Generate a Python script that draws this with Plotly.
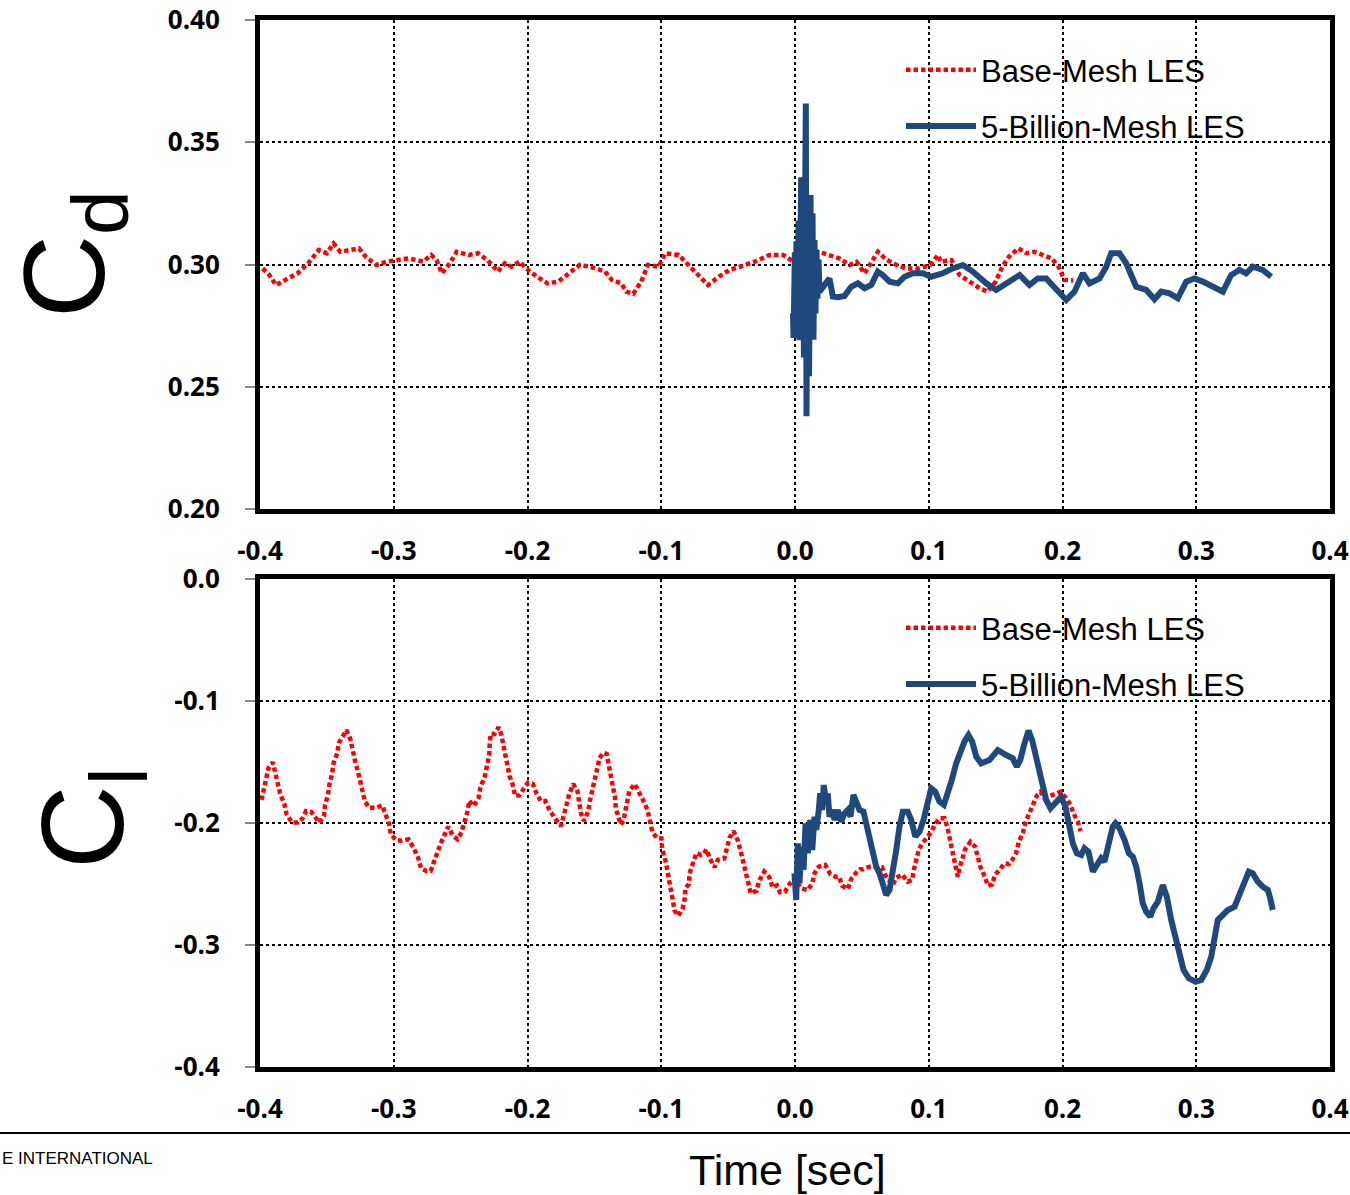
import plotly.graph_objects as go

# ---------------- data ----------------
# Top panel: drag coefficient Cd
cd_base_t = [-0.398, -0.393, -0.388, -0.380, -0.372, -0.364, -0.356, -0.350, -0.345, -0.340,
             -0.332, -0.326, -0.321, -0.313, -0.305, -0.297, -0.289, -0.278, -0.272, -0.268,
             -0.264, -0.258, -0.253, -0.244, -0.237, -0.230, -0.222, -0.217, -0.212, -0.206,
             -0.201, -0.193, -0.185, -0.177, -0.169, -0.161, -0.153, -0.142, -0.137, -0.130,
             -0.126, -0.121, -0.115, -0.110, -0.102, -0.097, -0.087, -0.081, -0.073, -0.065,
             -0.057, -0.049, -0.041, -0.030, -0.019, -0.009, -0.001, 0.008,
             0.018, 0.026, 0.033, 0.041, 0.046, 0.052, 0.057, 0.062, 0.068, 0.076,
             0.083, 0.093, 0.101, 0.107, 0.109, 0.117, 0.123, 0.130, 0.138, 0.144,
             0.150, 0.155, 0.160, 0.167, 0.173, 0.179, 0.185, 0.192, 0.197, 0.2015, 0.208]
cd_base = [0.2984, 0.2957, 0.2916, 0.2939, 0.2964, 0.3005, 0.3059, 0.3046, 0.3086, 0.3052,
           0.3059, 0.3066, 0.3032, 0.2998, 0.3012, 0.3018, 0.3025, 0.3012, 0.3039, 0.3018,
           0.2964, 0.3005, 0.3052, 0.3039, 0.3046, 0.3018, 0.2971, 0.3005, 0.2991, 0.3012,
           0.2984, 0.2950, 0.2923, 0.2930, 0.2964, 0.2998, 0.2991, 0.2971, 0.2937, 0.2923,
           0.2889, 0.2880, 0.2930, 0.2998, 0.2991, 0.3046, 0.3039, 0.3005, 0.2964, 0.2916,
           0.2950, 0.2978, 0.2991, 0.3012, 0.3039, 0.3039, 0.3012, 0.3045,
           0.3052, 0.3035, 0.3025, 0.2998, 0.3011, 0.2964, 0.3005, 0.3052, 0.3021, 0.2998,
           0.2984, 0.2984, 0.2998, 0.3039, 0.3011, 0.3018, 0.2957, 0.2930, 0.2903, 0.2889,
           0.2930, 0.2991, 0.3032, 0.3066, 0.3046, 0.3052, 0.3039, 0.3025, 0.2991, 0.2937, 0.2935]

cd_fine_t = [-0.0015, -0.0011, -0.0001, 0.0004, 0.0011, 0.0020, 0.0026, 0.0034, 0.0046, 0.0052,
             0.0060, 0.0067, 0.0081, 0.0086, 0.0093, 0.0105, 0.0116, 0.0123, 0.0131, 0.0138,
             0.0146, 0.0153, 0.0161, 0.0168, 0.0176, 0.0183,
             0.0221, 0.0258, 0.0283, 0.0320, 0.0370, 0.0420, 0.0470, 0.0520, 0.0570, 0.0619,
             0.0656, 0.0707, 0.0769, 0.0819, 0.0881, 0.0956, 0.1018, 0.1105, 0.1180, 0.1255,
             0.1329, 0.1430, 0.1504, 0.1604, 0.1679, 0.1753, 0.1815, 0.1878, 0.1953, 0.2028,
             0.2090, 0.2152, 0.2202, 0.2277, 0.2327, 0.2364, 0.2426, 0.2476, 0.2551, 0.2626,
             0.2688, 0.2738, 0.2800, 0.2862, 0.2925, 0.2987, 0.3049, 0.3124, 0.3199, 0.3261,
             0.3323, 0.3373, 0.3423, 0.3497, 0.3560]
cd_fine = [0.280, 0.270, 0.305, 0.270, 0.3095, 0.270, 0.318, 0.269, 0.3357, 0.269,
           0.320, 0.262, 0.3658, 0.2379, 0.320, 0.2543, 0.3284, 0.2692, 0.321, 0.2692,
           0.310, 0.280, 0.306, 0.286, 0.302, 0.2889,
           0.2916, 0.2943, 0.2869, 0.2866, 0.2871, 0.2909, 0.2923, 0.2903, 0.2916, 0.2971,
           0.2957, 0.2930, 0.2923, 0.2950, 0.2964, 0.2964, 0.2950, 0.2964, 0.2984, 0.2998,
           0.2971, 0.2923, 0.2896, 0.2930, 0.2957, 0.2916, 0.2943, 0.2943, 0.2896, 0.2855,
           0.2889, 0.2964, 0.2923, 0.2943, 0.2991, 0.3046, 0.3046, 0.3005, 0.2909, 0.2896,
           0.2858, 0.2889, 0.2882, 0.2862, 0.2930, 0.2943, 0.2930, 0.2909, 0.2889, 0.2957,
           0.2978, 0.2964, 0.2991, 0.2978, 0.2950]

# Bottom panel: lift coefficient Cl
cl_base_t = [-0.3989, -0.3971, -0.3952, -0.3936, -0.3904, -0.3885, -0.3864, -0.3850, -0.3818, -0.3802,
             -0.3762, -0.3717, -0.3682, -0.3656, -0.3615, -0.3589, -0.3557, -0.3522, -0.3514, -0.3493,
             -0.3482, -0.3463, -0.3450, -0.3423, -0.3410, -0.3375, -0.3354, -0.3324, -0.3311, -0.3290,
             -0.3268, -0.3252, -0.3236, -0.3215, -0.3183, -0.3129, -0.3087, -0.3063, -0.3036, -0.3023,
             -0.2983, -0.2943, -0.2889, -0.2849, -0.2817, -0.2796, -0.2756, -0.2724, -0.2702, -0.2681,
             -0.2649, -0.2617, -0.2593, -0.2561, -0.2523, -0.2494, -0.2470, -0.2449, -0.2435, -0.2403,
             -0.2366, -0.2352, -0.2320, -0.2304, -0.2286, -0.2283, -0.2275, -0.2248, -0.2216, -0.2198,
             -0.2182, -0.2166, -0.2150, -0.2134, -0.2109, -0.2093, -0.2061, -0.2035, -0.1997, -0.1960,
             -0.1933, -0.1901, -0.1866, -0.1834, -0.1802, -0.1778, -0.1749, -0.1730, -0.1709, -0.1688,
             -0.1658, -0.1626, -0.1613, -0.1600, -0.1578, -0.1546, -0.1533, -0.1514, -0.1495, -0.1479,
             -0.1461, -0.1434, -0.1407, -0.1394, -0.1375, -0.1359, -0.1346, -0.1340, -0.1319, -0.1303,
             -0.1282, -0.1268, -0.1250, -0.1239, -0.1199, -0.1162, -0.1132, -0.1103, -0.1089, -0.1068,
             -0.1033, -0.0999, -0.0993, -0.0975, -0.0959, -0.0943, -0.0935, -0.0913, -0.0900, -0.0873,
             -0.0841, -0.0825, -0.0820, -0.0793, -0.0788, -0.0761, -0.0737, -0.0702, -0.0684, -0.0662,
             -0.0636, -0.0601, -0.0577, -0.0529, -0.0505, -0.0489, -0.0459, -0.0427, -0.0406, -0.0387,
             -0.0371, -0.0350, -0.0331, -0.0288, -0.0267, -0.0230, -0.0192, -0.0166, -0.0136, -0.0112,
             -0.0075, -0.0037, -0.0005,
             0.0046, 0.0096, 0.0129, 0.0146, 0.0178, 0.0226, 0.0263, 0.0303, 0.0330, 0.0353,
             0.0395, 0.0420, 0.0458, 0.0487, 0.0510, 0.0557, 0.0607, 0.0652, 0.0677, 0.0731,
             0.0757, 0.0801, 0.0843, 0.0876, 0.0888, 0.0911, 0.0926, 0.0951, 0.0988, 0.1018,
             0.1050, 0.1080, 0.1118, 0.1138, 0.1155, 0.1172, 0.1193, 0.1205, 0.1217, 0.1230,
             0.1250, 0.1273, 0.1312, 0.1347, 0.1367, 0.1387, 0.1419, 0.1442, 0.1474, 0.1497,
             0.1534, 0.1566, 0.1599, 0.1624, 0.1654, 0.1673, 0.1703, 0.1723, 0.1751, 0.1778,
             0.1811, 0.1836, 0.1865, 0.1908, 0.1948, 0.1985, 0.2022, 0.2060, 0.2082, 0.2114,
             0.2135]
cl_base = [-0.1811, -0.1724, -0.1634, -0.1547, -0.1503, -0.1585, -0.1670, -0.1757, -0.1844, -0.1926,
           -0.1995, -0.1995, -0.1962, -0.1902, -0.1910, -0.1943, -0.1997, -0.1943, -0.1852, -0.1776,
           -0.1689, -0.1607, -0.1511, -0.1429, -0.1342, -0.1279, -0.1238, -0.1314, -0.1402, -0.1489,
           -0.1577, -0.1661, -0.1738, -0.1825, -0.1874, -0.1874, -0.1855, -0.1915, -0.2003, -0.2090,
           -0.2139, -0.2145, -0.2134, -0.2210, -0.2287, -0.2372, -0.2393, -0.2393, -0.2325, -0.2243,
           -0.2167, -0.2090, -0.2030, -0.2098, -0.2134, -0.2077, -0.1992, -0.1907, -0.1817, -0.1861,
           -0.1795, -0.1708, -0.1620, -0.1533, -0.1443, -0.1358, -0.1270, -0.1270, -0.1216, -0.1265,
           -0.1352, -0.1440, -0.1527, -0.1615, -0.1691, -0.1779, -0.1773, -0.1730, -0.1670, -0.1680,
           -0.1757, -0.1820, -0.1820, -0.1899, -0.1954, -0.1984, -0.2025, -0.1934, -0.1850, -0.1762,
           -0.1680, -0.1740, -0.1834, -0.1921, -0.1984, -0.1904, -0.1817, -0.1730, -0.1642, -0.1555,
           -0.1467, -0.1424, -0.1435, -0.1519, -0.1609, -0.1697, -0.1787, -0.1877, -0.1956, -0.2014,
           -0.1981, -0.1915, -0.1828, -0.1740, -0.1680, -0.1749, -0.1822, -0.1893, -0.1981, -0.2068,
           -0.2123, -0.2126, -0.2219, -0.2276, -0.2361, -0.2451, -0.2541, -0.2629, -0.2719, -0.2760,
           -0.2705, -0.2623, -0.2535, -0.2500, -0.2412, -0.2325, -0.2246, -0.2262, -0.2254, -0.2216,
           -0.2292, -0.2363, -0.2301, -0.2292, -0.2205, -0.2120, -0.2068, -0.2145, -0.2232, -0.2320,
           -0.2407, -0.2494, -0.2576, -0.2557, -0.2470, -0.2399, -0.2445, -0.2530, -0.2511, -0.2568,
           -0.2562, -0.2494, -0.2454,
           -0.2536, -0.2549, -0.2494, -0.2413, -0.2358, -0.2344, -0.2418, -0.2440, -0.2440, -0.2514,
           -0.2541, -0.2459, -0.2407, -0.2380, -0.2380, -0.2358, -0.2358, -0.2364, -0.2432, -0.2508,
           -0.2448, -0.2423, -0.2481, -0.2467, -0.2385, -0.2298, -0.2216, -0.2167, -0.2118, -0.2077,
           -0.2003, -0.1962, -0.1962, -0.2030, -0.2118, -0.2205, -0.2292, -0.2358, -0.2440, -0.2372,
           -0.2298, -0.2213, -0.2153, -0.2194, -0.2281, -0.2363, -0.2440, -0.2514, -0.2503, -0.2421,
           -0.2380, -0.2331, -0.2336, -0.2303, -0.2243, -0.2156, -0.2082, -0.1997, -0.1921, -0.1847,
           -0.1770, -0.1743, -0.1798, -0.1779, -0.1762, -0.1743, -0.1790, -0.1850, -0.1921, -0.1989,
           -0.2066]

cl_fine_t = [-0.0004, 0.0009, 0.0021, 0.0034, 0.0046, 0.0064, 0.0079, 0.0096, 0.0114, 0.0129,
             0.0146, 0.0159, 0.0178, 0.0188, 0.0203, 0.0215, 0.0233, 0.0245, 0.0258, 0.0278,
             0.0295, 0.0320, 0.0345, 0.0370, 0.0395, 0.0415, 0.0437, 0.0462, 0.0482, 0.0512,
             0.0537, 0.0562, 0.0587, 0.0607, 0.0632, 0.0656, 0.0682, 0.0707, 0.0731, 0.0757,
             0.0781, 0.0806, 0.0843, 0.0869, 0.0899, 0.0931, 0.0961, 0.0988, 0.1018, 0.1048,
             0.1080, 0.1113, 0.1143, 0.1172, 0.1205, 0.1237, 0.1267, 0.1297, 0.1325, 0.1355,
             0.1392, 0.1454, 0.1516, 0.1579, 0.1628, 0.1658, 0.1684, 0.1716, 0.1746, 0.1773,
             0.1798, 0.1828, 0.1853, 0.1878, 0.1910, 0.1953, 0.1990, 0.2022, 0.2047, 0.2077,
             0.2107, 0.2140, 0.2164, 0.2194, 0.2227, 0.2264, 0.2289, 0.2314, 0.2346, 0.2376,
             0.2396, 0.2426, 0.2464, 0.2496, 0.2526, 0.2551, 0.2576, 0.2600, 0.2626, 0.2656,
             0.2680, 0.2713, 0.2750, 0.2780, 0.2813, 0.2845, 0.2875, 0.2905, 0.2944, 0.2995,
             0.3037, 0.3079, 0.3112, 0.3136, 0.3161, 0.3199, 0.3236, 0.3286, 0.3323, 0.3361,
             0.3393, 0.3423, 0.3460, 0.3497, 0.3535, 0.3553, 0.3572]
cl_fine = [-0.2413, -0.2631, -0.2167, -0.2494, -0.2194, -0.2385, -0.2003, -0.2248, -0.1975, -0.2221,
           -0.1948, -0.2057, -0.1893, -0.1757, -0.1893, -0.1689, -0.1839, -0.1757, -0.1948, -0.1893,
           -0.1975, -0.1893, -0.1989, -0.1921, -0.1893, -0.1948, -0.1770, -0.1839, -0.1893, -0.1907,
           -0.2030, -0.2126, -0.2221, -0.2358, -0.2413, -0.2494, -0.2590, -0.2549, -0.2413, -0.2221,
           -0.2030, -0.1907, -0.1907, -0.1975, -0.2112, -0.2071, -0.1975, -0.1866, -0.1716, -0.1743,
           -0.1825, -0.1852, -0.1757, -0.1648, -0.1511, -0.1415, -0.1333, -0.1279, -0.1333, -0.1456,
           -0.1511, -0.1484, -0.1402, -0.1443, -0.1470, -0.1538, -0.1484, -0.1347, -0.1243, -0.1320,
           -0.1429, -0.1579, -0.1675, -0.1811, -0.1880, -0.1825, -0.1784, -0.1866, -0.2003, -0.2167,
           -0.2248, -0.2262, -0.2207, -0.2235, -0.2399, -0.2344, -0.2289, -0.2317, -0.2167, -0.2030,
           -0.2003, -0.2044, -0.2139, -0.2248, -0.2276, -0.2358, -0.2494, -0.2658, -0.2727, -0.2768,
           -0.2699, -0.2645, -0.2508, -0.2604, -0.2795, -0.2932, -0.3068, -0.3205, -0.3273, -0.3301,
           -0.3287, -0.3205, -0.3096, -0.2932, -0.2795, -0.2754, -0.2713, -0.2686, -0.2577, -0.2467,
           -0.2399, -0.2413, -0.2481, -0.2522, -0.2549, -0.2617, -0.2713]

series_names = ["Base-Mesh LES", "5-Billion-Mesh LES"]
x_tick_vals = [-0.4, -0.3, -0.2, -0.1, 0.0, 0.1, 0.2, 0.3, 0.4]
x_tick_text = ["-0.4", "-0.3", "-0.2", "-0.1", "0.0", "0.1", "0.2", "0.3", "0.4"]
cd_tick_vals = [0.20, 0.25, 0.30, 0.35, 0.40]
cd_tick_text = ["0.20", "0.25", "0.30", "0.35", "0.40"]
cl_tick_vals = [0.0, -0.1, -0.2, -0.3, -0.4]
cl_tick_text = ["0.0", "-0.1", "-0.2", "-0.3", "-0.4"]

# ---------------- styling ----------------
W, H = 1350, 1195
RED = "#FF0000"
BLUE = "#1F497D"
TICKFONT = dict(family="Open Sans, Arial", size=26, color="black", weight="bold")
LEGFONT = dict(family="Liberation Sans, Arial", size=31, color="black")

def px_x(p):
    return p / W

def px_y(p):
    return (H - p) / H

fig = go.Figure()

red_line = dict(color=RED, width=4.5, dash="4.5px,3px")
blue_line = dict(color=BLUE, width=6)

fig.add_trace(go.Scatter(x=cd_base_t, y=cd_base, mode="lines", line=red_line,
                         name=series_names[0], legend="legend", legendgroup="a",
                         xaxis="x", yaxis="y"))
fig.add_trace(go.Scatter(x=cd_fine_t, y=cd_fine, mode="lines", line=blue_line,
                         name=series_names[1], legend="legend", legendgroup="b",
                         xaxis="x", yaxis="y"))
fig.add_trace(go.Scatter(x=cl_base_t, y=cl_base, mode="lines", line=red_line,
                         name=series_names[0], legend="legend2", legendgroup="c",
                         xaxis="x2", yaxis="y2"))
fig.add_trace(go.Scatter(x=cl_fine_t, y=cl_fine, mode="lines", line=blue_line,
                         name=series_names[1], legend="legend2", legendgroup="d",
                         xaxis="x2", yaxis="y2"))

xdom = [px_x(260), px_x(1330)]

def xaxis_cfg(anchor):
    return dict(domain=xdom, anchor=anchor, range=[-0.4, 0.4], automargin=False,
                tickmode="array", tickvals=x_tick_vals, ticktext=x_tick_text,
                showgrid=True, gridcolor="black", griddash="dot", gridwidth=1.5,
                showline=True, mirror=True, linecolor="black", linewidth=5,
                zeroline=False, ticks="", tickfont=TICKFONT, ticklabelstandoff=15)

def yaxis_cfg(anchor, dom, rng, vals, text):
    return dict(domain=dom, anchor=anchor, range=rng, automargin=False,
                tickmode="array", tickvals=vals, ticktext=text,
                showgrid=True, gridcolor="black", griddash="dot", gridwidth=1.5,
                showline=True, mirror=True, linecolor="black", linewidth=5,
                zeroline=False, ticks="outside", ticklen=10, tickwidth=2,
                tickcolor="#888888", tickfont=TICKFONT, ticklabelstandoff=20)

fig.update_layout(
    width=W, height=H, autosize=False,
    margin=dict(l=0, r=0, t=0, b=0, pad=0, autoexpand=False),
    paper_bgcolor="white", plot_bgcolor="white",
    xaxis=xaxis_cfg("y"),
    yaxis=yaxis_cfg("x", [px_y(509), px_y(20)], [0.20, 0.40], cd_tick_vals, cd_tick_text),
    xaxis2=xaxis_cfg("y2"),
    yaxis2=yaxis_cfg("x2", [px_y(1067), px_y(579)], [-0.4, 0.0], cl_tick_vals, cl_tick_text),
    legend=dict(x=px_x(901), y=px_y(43), xanchor="left", yanchor="top",
                font=LEGFONT, bgcolor="rgba(0,0,0,0)", itemwidth=70,
                tracegroupgap=13),
    legend2=dict(x=px_x(901), y=px_y(601), xanchor="left", yanchor="top",
                 font=LEGFONT, bgcolor="rgba(0,0,0,0)", itemwidth=70,
                 tracegroupgap=13),
    showlegend=True,
)

fig.add_annotation(text="C<sub>d</sub>", textangle=-90, showarrow=False,
                   xref="paper", yref="paper", x=px_x(72), y=px_y(254),
                   xanchor="center", yanchor="middle",
                   font=dict(family="Liberation Sans, Arial", size=115, color="black"))
fig.add_annotation(text="C<sub>l</sub>", textangle=-90, showarrow=False,
                   xref="paper", yref="paper", x=px_x(91), y=px_y(818),
                   xanchor="center", yanchor="middle",
                   font=dict(family="Liberation Sans, Arial", size=116, color="black"))
fig.add_annotation(text="Time [sec]", showarrow=False,
                   xref="paper", yref="paper", x=px_x(787), y=px_y(1170),
                   xanchor="center", yanchor="middle",
                   font=dict(family="Liberation Sans Narrow, Arial Narrow, Liberation Sans", size=43, color="black"))
fig.add_annotation(text="E INTERNATIONAL", showarrow=False,
                   xref="paper", yref="paper", x=0, y=px_y(1158),
                   xanchor="left", yanchor="middle",
                   font=dict(family="Liberation Sans Narrow, Arial Narrow, Liberation Sans", size=17, color="black"))
fig.add_shape(type="line", xref="paper", yref="paper", x0=0, x1=1, y0=px_y(1133), y1=px_y(1133),
              line=dict(color="black", width=2))

fig.write_html("out.html")
